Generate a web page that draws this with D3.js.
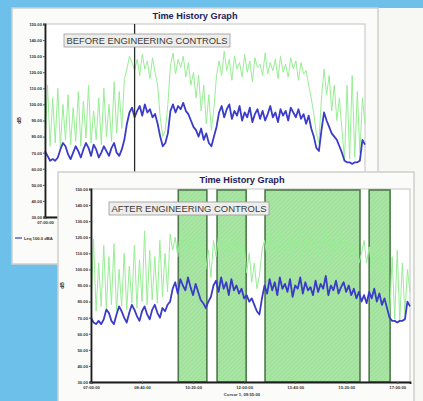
<!DOCTYPE html>
<html>
<head>
<meta charset="utf-8">
<script src="https://cdn.jsdelivr.net/npm/d3@7"></script>
<style>
  html, body { margin: 0; padding: 0; background: #6cc0ea; }
  svg { display: block; }
  text { font-family: "Liberation Sans", Arial, sans-serif; }
</style>
</head>
<body>
<div id="chart"></div>
<script>
// readings every 5 minutes from 07:00 to 17:25
const startTime = '07:00';
const stepMinutes = 5;
const tickLabels = ['07:00:00', '08:40:00', '10:20:00', '12:00:00', '13:40:00', '15:20:00', '17:00:00'];
const yTicks = [30, 40, 50, 60, 70, 80, 90, 100, 110, 120, 130, 140, 150];

const beforeLeq = [71, 68, 65, 66, 65, 67, 72, 76, 74, 69,
  66, 70, 74, 71, 67, 72, 76, 73, 68, 75,
  72, 67, 70, 74, 71, 68, 73, 76, 70, 68,
  72, 78, 88, 95, 98, 92,
  96, 99, 93, 100, 95, 97, 92, 94, 88,
  80, 74, 76, 82,
  96, 100, 95, 99, 97, 101, 96, 94, 90, 86,
  84, 80, 85, 78, 82, 76, 74, 80, 86,
  95, 99, 92, 97, 100, 91, 96, 93, 99, 90, 95, 92, 98, 89, 94, 97, 91, 96, 90, 94,
  99, 92, 95, 89, 97, 93, 96, 90, 98, 95, 92, 97, 91, 94, 88, 93, 85, 80,
  73, 71, 84,
  95, 90, 86, 82, 80, 78, 74, 70,
  65, 64, 64, 63, 64, 64, 65,
  78, 75];

const beforeLmax = [75, 112, 74, 104, 76, 110, 73, 100, 78, 106, 75, 98, 77, 108, 74, 102,
  79, 112, 76, 96, 78, 104, 75, 110, 80, 100, 77, 114, 82, 108, 85, 116,
  122, 130, 126, 121,
  128, 118, 131, 122, 127, 116, 129, 120, 112,
  92, 80, 84, 100,
  124, 132, 119, 128, 123, 130, 117, 126, 112, 120,
  104, 118, 96, 112, 88, 106, 84, 98, 118,
  127, 118, 133, 121, 128, 115, 130, 122, 126, 117, 131, 120, 127, 114, 129, 123, 125, 118, 132, 119,
  126, 121, 128, 116, 130, 120, 125, 117, 129, 122, 127, 115, 126, 119, 121, 112, 104, 94,
  82, 76, 104,
  122, 106, 118, 96, 112, 90, 104, 84,
  66, 112, 66, 118, 67, 108, 70,
  104, 88];

const afterLeq = [70, 67, 66, 68, 66, 69, 75, 73, 68, 66, 72, 77, 74, 70, 67, 73,
  78, 75, 71, 68, 74, 77, 72, 69, 75, 78, 73, 70, 76, 74, 78, 80,
  88, 92, 85, 94, 90, 87, 95, 89, 84, 91, 86, 81, 79,
  76, 80, 83, 90,
  93, 86, 95, 88, 92, 84, 94, 87, 90, 85, 88,
  82, 84, 80, 82, 78, 74, 72, 82,
  90, 85, 94, 87, 92, 84, 95, 88, 91, 86, 94, 83, 90, 88, 95, 85, 92, 87, 89, 84,
  93, 86, 91, 88, 96, 84, 90, 87, 93, 85, 89, 92, 86, 90, 84, 88, 82, 86,
  80, 84, 79, 86, 82, 88, 80, 85, 78, 82, 76,
  70, 68, 68, 67, 68, 68, 69,
  80, 77];

const afterLmax = [76, 119, 74, 104, 77, 115, 75, 108, 78, 116, 74, 100, 77, 110, 75, 102,
  79, 115, 76, 106, 80, 124, 78, 112, 81, 108, 79, 118, 83, 110, 86, 122,
  112, 120, 108, 124, 115, 110, 122, 107, 118, 113, 121, 105, 116,
  100, 112, 95, 118,
  108, 121, 112, 118, 106, 123, 110, 117, 105, 120, 108,
  115, 98, 110, 92, 104, 88, 96, 112,
  118, 108, 124, 112, 120, 106, 126, 110, 117, 109, 122, 105, 119, 113, 125, 107, 121, 111, 116, 106,
  123, 109, 118, 112, 127, 104, 120, 110, 122, 108, 117, 114, 120, 106, 115, 109, 112, 104,
  110, 118, 104, 114, 100, 116, 106, 112, 98, 108, 92,
  70, 108, 69, 112, 68, 104, 72,
  100, 86];

// engineering control periods (after)
const controlStarts = ['09:51', '11:07', '12:41', '16:05'];
const controlEnds = ['10:47', '12:04', '15:47', '16:46'];
const cursorTime = '09:55';

// ////////////////////////////////////////////////////////////////////////////
// HELPERS
// ////////////////////////////////////////////////////////////////////////////

const parseClock = d3.timeParse('%H:%M');
const t0 = parseClock(startTime);
const timeAt = i => d3.timeMinute.offset(t0, i * stepMinutes);
const tEnd = timeAt(beforeLeq.length - 1);

const width = 423;
const height = 401;

const svg = d3.select('#chart').append('svg')
  .attr('width', width)
  .attr('height', height);

const defs = svg.append('defs');
const hatch = defs.append('pattern')
  .attr('id', 'hatch')
  .attr('patternUnits', 'userSpaceOnUse')
  .attr('width', 3)
  .attr('height', 3)
  .attr('patternTransform', 'rotate(45)');
hatch.append('rect').attr('width', 3).attr('height', 3).attr('fill', '#a9e6a4');
hatch.append('line').attr('x1', 0).attr('y1', 0).attr('x2', 0).attr('y2', 3)
  .attr('stroke', '#93d68e').attr('stroke-width', 1);

// right side of the slide is white
svg.append('rect')
  .attr('x', 378).attr('y', 8).attr('width', 45).attr('height', height - 8)
  .attr('fill', '#f7f7f4');

function drawPanel(cfg) {
  const g = svg.append('g');
  g.append('rect')
    .attr('x', cfg.box[0]).attr('y', cfg.box[1])
    .attr('width', cfg.box[2]).attr('height', cfg.box[3])
    .attr('fill', '#fbfbf9')
    .attr('stroke', '#cfcfca')
    .attr('stroke-width', 1.5);

  const x = d3.scaleTime().domain([t0, tEnd]).range([cfg.plot.left, cfg.plot.right]);
  const y = d3.scaleLinear().domain([30, 150]).range([cfg.plot.bottom, cfg.plot.top]);

  // frame
  g.append('rect')
    .attr('x', cfg.plot.left).attr('y', cfg.plot.top)
    .attr('width', cfg.plot.right - cfg.plot.left)
    .attr('height', cfg.plot.bottom - cfg.plot.top)
    .attr('fill', '#ffffff')
    .attr('stroke', '#c4c4c0')
    .attr('stroke-width', 1);

  // shaded control periods
  if (cfg.shaded) {
    g.selectAll('rect.ctrl')
      .data(controlStarts.map((s, i) => [parseClock(s), parseClock(controlEnds[i])]))
      .enter().append('rect')
      .attr('class', 'ctrl')
      .attr('x', d => x(d[0]))
      .attr('y', cfg.plot.top + 1)
      .attr('width', d => x(d[1]) - x(d[0]))
      .attr('height', cfg.plot.bottom - cfg.plot.top - 1)
      .attr('fill', 'url(#hatch)')
      .attr('stroke', '#4d7a4a')
      .attr('stroke-width', 1.6);
  }

  const line = d3.line()
    .x((d, i) => x(timeAt(i)))
    .y(d => y(d));

  g.append('path')
    .attr('d', line(cfg.lmax))
    .attr('fill', 'none')
    .attr('stroke', '#98ee95')
    .attr('stroke-width', 1);

  g.append('path')
    .attr('d', line(cfg.leq))
    .attr('fill', 'none')
    .attr('stroke', '#3b3bc9')
    .attr('stroke-width', 1.8)
    .attr('stroke-linejoin', 'round');

  // cursor
  if (cfg.cursor) {
    const cx = x(parseClock(cursorTime));
    g.append('line')
      .attr('x1', cx).attr('x2', cx)
      .attr('y1', cfg.plot.top).attr('y2', cfg.plot.bottom)
      .attr('stroke', '#2a2a2a').attr('stroke-width', 1.3);
  }

  // y axis
  const yAxis = d3.axisLeft(y).tickValues(yTicks).tickSize(2)
    .tickFormat(d3.format('.2f'));
  const ya = g.append('g')
    .attr('transform', `translate(${cfg.plot.left},0)`)
    .call(yAxis);
  ya.select('.domain').attr('stroke', '#1e1e1e').attr('stroke-width', 1.8);
  ya.selectAll('.tick line').attr('stroke', '#555');
  ya.selectAll('.tick text')
    .attr('font-size', 4.2)
    .attr('font-weight', 'bold')
    .attr('fill', '#333')
    .attr('x', -3);

  // x axis
  const xa = g.append('g')
    .attr('transform', `translate(0,${cfg.plot.bottom})`)
    .call(d3.axisBottom(x)
      .tickValues(tickLabels.slice(0, cfg.nTicks).map(s => parseClock(s.slice(0, 5))))
      .tickSize(2)
      .tickFormat(d => d3.timeFormat('%H:%M:%S')(d)));
  xa.select('.domain').attr('stroke', '#1e1e1e').attr('stroke-width', 1.8);
  xa.selectAll('.tick line').attr('stroke', '#555');
  xa.selectAll('.tick text')
    .attr('font-size', 4.2)
    .attr('font-weight', 'bold')
    .attr('fill', '#333')
    .attr('y', 4);

  // dB label
  g.append('text')
    .attr('transform', `translate(${cfg.dbX},${y(90)}) rotate(-90)`)
    .attr('text-anchor', 'middle')
    .attr('font-size', 5)
    .attr('font-weight', 'bold')
    .attr('fill', '#333')
    .text('dB');

  // title
  g.append('text')
    .attr('x', cfg.titleX).attr('y', cfg.box[1] + 10.5)
    .attr('text-anchor', 'middle')
    .attr('font-size', 9.2)
    .attr('font-weight', 'bold')
    .attr('fill', '#1d2160')
    .text('Time History Graph');

  // condition label
  const lb = g.append('g').attr('transform', `translate(${cfg.label[0]},${cfg.label[1]})`);
  lb.append('rect')
    .attr('width', cfg.label[2]).attr('height', 13)
    .attr('fill', '#ededeb').attr('stroke', '#9a9a98').attr('stroke-width', 0.8);
  lb.append('text')
    .attr('x', 2.5).attr('y', 10)
    .attr('font-size', 9.4)
    .attr('fill', '#3a3a3a')
    .attr('textLength', cfg.label[2] - 5)
    .attr('lengthAdjust', 'spacingAndGlyphs')
    .text(cfg.labelText);

  return { x, y };
}

// ////////////////////////////////////////////////////////////////////////////
// BEFORE
// ////////////////////////////////////////////////////////////////////////////

drawPanel({
  box: [12, 8, 366, 256],
  plot: { left: 45, top: 24, right: 365, bottom: 217 },
  leq: beforeLeq,
  lmax: beforeLmax,
  cursor: true,
  shaded: false,
  nTicks: 1,
  dbX: 21,
  titleX: 195,
  label: [64, 34, 166],
  labelText: 'BEFORE ENGINEERING CONTROLS'
});

// legend
svg.append('line')
  .attr('x1', 15).attr('x2', 22).attr('y1', 238).attr('y2', 238)
  .attr('stroke', '#3b3bc9').attr('stroke-width', 1.2);
svg.append('text')
  .attr('x', 24).attr('y', 239.5)
  .attr('font-size', 4.2)
  .attr('font-weight', 'bold')
  .attr('fill', '#333')
  .text('Leq 100.0 dBA');

// ////////////////////////////////////////////////////////////////////////////
// AFTER
// ////////////////////////////////////////////////////////////////////////////

drawPanel({
  box: [58, 172, 356, 240],
  plot: { left: 91, top: 189, right: 410, bottom: 382 },
  leq: afterLeq,
  lmax: afterLmax,
  cursor: false,
  shaded: true,
  nTicks: 7,
  dbX: 64,
  titleX: 242,
  label: [109, 202, 160],
  labelText: 'AFTER ENGINEERING CONTROLS'
});

svg.append('text')
  .attr('x', 242).attr('y', 396)
  .attr('text-anchor', 'middle')
  .attr('font-size', 4.2)
  .attr('font-weight', 'bold')
  .attr('fill', '#333')
  .text('Cursor 1, 09:55:00');
</script>
</body>
</html>
